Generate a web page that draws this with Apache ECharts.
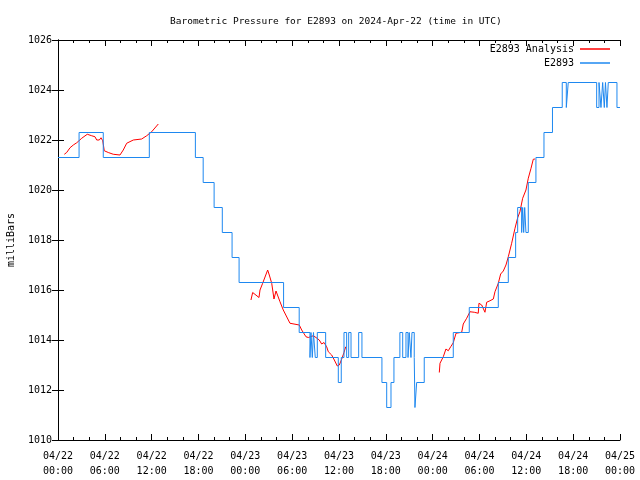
<!DOCTYPE html>
<html>
<head>
<meta charset="utf-8">
<script src="https://cdn.jsdelivr.net/npm/echarts@6/dist/echarts.min.js"></script>
<style>html,body{margin:0;padding:0;background:#fff}#chart{width:640px;height:480px}</style>
</head>
<body>
<div id="chart"></div>
<script>
const titleText = 'Barometric Pressure for E2893 on 2024-Apr-22 (time in UTC)';
const xTickLabels = ['04/22\n00:00','04/22\n06:00','04/22\n12:00','04/22\n18:00','04/23\n00:00','04/23\n06:00','04/23\n12:00','04/23\n18:00','04/24\n00:00','04/24\n06:00','04/24\n12:00','04/24\n18:00','04/25\n00:00'];
const seriesNames = ['E2893 Analysis', 'E2893'];

// hours since 04/22 00:00 UTC, pressure in millibars
const analysis1Hours = [0.81,1.11,1.54,1.96,2.40,3.04,3.75,4.32,4.74,4.96,5.29,5.51,5.73,5.93,6.44,7.08,7.94,8.36,8.80,9.65,10.72,11.36,12.0,12.85];
const analysis1Values = [1021.43,1021.5,1021.69,1021.8,1021.89,1022.07,1022.23,1022.17,1022.13,1022.0,1022.0,1022.09,1021.97,1021.57,1021.5,1021.43,1021.4,1021.6,1021.87,1022.0,1022.04,1022.17,1022.33,1022.64];

const analysis2Hours = [24.72,24.94,25.75,25.88,26.22,26.86,27.07,27.38,27.67,27.93,28.44,28.86,29.72,29.94,30.91,31.22,31.77,32.07,32.71,33.05,33.47,33.78,34.08,34.42,34.63,35.06,35.4,35.78,36.04,36.34,36.64,36.86];
const analysis2Values = [1015.6,1015.9,1015.7,1016.0,1016.27,1016.8,1016.6,1016.27,1015.64,1015.96,1015.53,1015.2,1014.67,1014.6,1014.6,1014.4,1014.13,1014.1,1014.17,1014.1,1014.0,1013.84,1013.9,1013.73,1013.53,1013.4,1013.2,1012.96,1013.0,1013.23,1013.5,1013.73];

const analysis3Hours = [48.85,48.94,49.15,49.36,49.7,50.0,50.31,50.64,50.99,51.72,51.92,52.36,52.78,53.33,53.84,53.93,54.28,54.7,54.92,55.34,55.77,55.98,56.41,56.71,57.05,57.39,57.69,58.12,58.55,58.89,59.18,59.53,59.95,60.25,60.6,60.89,61.11];
const analysis3Values = [1012.7,1013.07,1013.1,1013.33,1013.64,1013.57,1013.73,1013.89,1014.27,1014.31,1014.64,1014.87,1015.13,1015.11,1015.07,1015.47,1015.4,1015.11,1015.51,1015.57,1015.64,1015.93,1016.27,1016.64,1016.76,1017.0,1017.33,1017.87,1018.47,1018.89,1019.13,1019.67,1020.0,1020.47,1020.87,1021.23,1021.24];

// station observations: each value holds from its hour until the next one
const stationHours = [0,2.7,5.8,11.7,17.6,18.6,20.0,21.05,22.3,23.2,28.9,30.9,32.28,32.41,32.58,32.73,32.96,33.22,34.29,35.91,36.29,36.64,36.98,37.24,37.54,38.52,38.94,41.5,42.11,42.66,43.04,43.8,44.16,44.58,44.84,45.0,45.22,45.35,45.64,45.73,45.95,46.92,50.64,52.69,56.41,57.69,58.63,58.89,59.4,59.53,59.66,59.79,59.95,60.25,61.23,62.26,63.35,64.6,65.12,65.37,69.01,69.31,69.56,69.78,69.99,70.14,70.33,70.5,71.61,72];
const stationValues = [1021.3,1022.3,1021.3,1022.3,1021.3,1020.3,1019.3,1018.3,1017.3,1016.3,1015.3,1014.3,1013.3,1014.3,1013.3,1014.3,1013.3,1014.3,1013.3,1012.3,1013.3,1014.3,1013.3,1014.3,1013.3,1014.3,1013.3,1012.3,1011.3,1012.3,1013.3,1014.3,1013.3,1014.3,1013.3,1014.3,1013.3,1014.3,1013.3,1011.3,1012.3,1013.3,1014.3,1015.3,1016.3,1017.3,1018.3,1019.3,1018.3,1019.3,1018.3,1019.3,1018.3,1020.3,1021.3,1022.3,1023.3,1024.3,1023.3,1024.3,1023.3,1024.3,1023.3,1024.3,1023.3,1024.3,1023.3,1024.3,1023.3,1023.3];

const zip = (a, b) => a.map((v, i) => [v, b[i]]);
const FONT = 'DejaVu Sans Mono';
const RED = '#ff0000';
const BLUE = '#1e88f0';

const chart = echarts.init(document.getElementById('chart'), null, {renderer: 'canvas'});

const tickCommon = {
  axisLine: {show: true, lineStyle: {color: '#000', width: 1}},
  axisTick: {show: true, inside: true, length: 6, lineStyle: {color: '#000', width: 1}},
  splitLine: {show: false}
};

function redSeries(h, v) {
  return {
    name: seriesNames[0], type: 'line', data: zip(h, v), showSymbol: false, symbol: 'none',
    lineStyle: {color: RED, width: 1}, itemStyle: {color: RED}, z: 2
  };
}

chart.setOption({
  animation: false,
  backgroundColor: '#fff',
  title: {
    text: titleText, left: 165, top: 12,
    textStyle: {fontFamily: FONT, fontSize: 9.5, fontWeight: 'normal', color: '#000'}
  },
  legend: {
    data: seriesNames, orient: 'vertical', right: 25, top: 39, align: 'right',
    icon: 'rect', itemWidth: 30, itemHeight: 1.5, itemGap: 4,
    textStyle: {fontFamily: FONT, fontSize: 10, color: '#000', padding: [0, 1, 0, 0]}
  },
  grid: {left: 58, right: 20, top: 40, bottom: 40, containLabel: false, outerBoundsMode: 'none'},
  xAxis: [
    Object.assign({
      type: 'value', min: 0, max: 72, interval: 6, position: 'bottom',
      minorTick: {show: true, splitNumber: 3, length: 3, lineStyle: {color: '#000', width: 1}},
      axisLabel: {formatter: v => xTickLabels[Math.round(v / 6)], color: '#000', fontFamily: FONT, fontSize: 10, lineHeight: 15, margin: 9}
    }, tickCommon),
    Object.assign({
      type: 'value', min: 0, max: 72, interval: 6, position: 'top',
      minorTick: {show: true, splitNumber: 3, length: 3, lineStyle: {color: '#000', width: 1}},
      axisLabel: {show: false}
    }, tickCommon)
  ],
  yAxis: [
    Object.assign({
      type: 'value', min: 1010, max: 1026, interval: 2, position: 'left',
      name: 'milliBars', nameLocation: 'middle', nameGap: 42, nameRotate: 90,
      nameTextStyle: {fontFamily: FONT, fontSize: 10, color: '#000'},
      axisLabel: {formatter: v => String(v), color: '#000', fontFamily: FONT, fontSize: 10, margin: 6}
    }, tickCommon),
    Object.assign({
      type: 'value', min: 1010, max: 1026, interval: 2, position: 'right',
      axisLabel: {show: false}
    }, tickCommon)
  ],
  series: [
    redSeries(analysis1Hours, analysis1Values),
    redSeries(analysis2Hours, analysis2Values),
    redSeries(analysis3Hours, analysis3Values),
    {
      name: seriesNames[1], type: 'line', step: 'end', data: zip(stationHours, stationValues),
      showSymbol: false, symbol: 'none',
      lineStyle: {color: BLUE, width: 1}, itemStyle: {color: BLUE}, z: 3
    }
  ]
});
</script>
</body>
</html>
